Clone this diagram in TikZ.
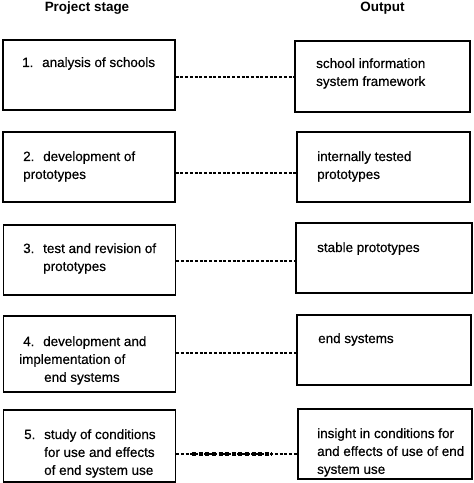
\documentclass[tikz,border=0pt]{standalone}
\usepackage{fontspec}
\setmainfont{Liberation Sans}
\newfontfamily\scanfont[FakeBold=0.4]{Liberation Sans}
\newcommand{\stagenum}[1]{\makebox[20bp][l]{#1}}
\begin{document}
\begin{tikzpicture}[x=1bp,y=-1bp,
  stagebox/.style={draw=black, line width=1.5bp, minimum width=172bp, minimum height=70bp, inner sep=0pt, fill=white},
  outbox/.style={draw=black, line width=1.5bp, minimum width=174bp, minimum height=70bp, inner sep=0pt, fill=white},
  label/.style={anchor=base west, inner sep=0pt, font=\fontsize{13.5}{18}\scanfont},
  header/.style={anchor=base, inner sep=0pt, font=\fontsize{13.5}{18}\selectfont\bfseries},
  link/.style={draw=black, line width=1.2bp, dash pattern=on 3bp off 1.7bp},
  heavylink/.style={draw=black, line width=3.2bp, dash pattern=on 4bp off 2.6bp}]
\useasboundingbox (0,0) rectangle (474,483);

\node[header] (H1) at (87,11.5) {Project stage};
\node[header] (H2) at (382.5,11.5) {Output};

% left boxes
\node[stagebox] (L1) at (89,75) {};
\node[stagebox] (L2) at (89,167) {};
\node[stagebox] (L3) at (89.5,260) {};
\node[stagebox, minimum height=76bp] (L4) at (89.5,354) {};
\node[stagebox, minimum height=72bp] (L5) at (89.5,446) {};

% right boxes
\node[outbox, minimum width=175bp, minimum height=71bp] (R1) at (382.5,76.5) {};
\node[outbox, minimum width=173bp] (R2) at (383.5,167) {};
\node[outbox, minimum width=176bp] (R3) at (384,258) {};
\node[outbox] (R4) at (384,350) {};
\node[outbox] (R5) at (385,444) {};

% left texts
\node[label] (L1t) at (22,67) {\stagenum{1.}analysis of schools};
\node[label] (L2t) at (23,161) {\begin{tabular}[t]{@{}l@{}}\stagenum{2.}development of\\prototypes\end{tabular}};
\node[label] (L3t) at (23,253) {\begin{tabular}[t]{@{}l@{}}\stagenum{3.}test and revision of\\\hspace*{20bp}prototypes\end{tabular}};
\node[label] (L4t) at (23,346) {\begin{tabular}[t]{@{}l@{}}\stagenum{4.}development and\\\hspace*{-4bp}implementation of\\\hspace*{21bp}end systems\end{tabular}};
\node[label] (L5t) at (24,439) {\begin{tabular}[t]{@{}l@{}}\stagenum{5.}study of conditions\\\hspace*{20bp}for use and effects\\\hspace*{20bp}of end system use\end{tabular}};

% right texts
\node[label] (R1t) at (316,68) {\begin{tabular}[t]{@{}l@{}}school information\\system framework\end{tabular}};
\node[label] (R2t) at (317,161) {\begin{tabular}[t]{@{}l@{}}internally tested\\prototypes\end{tabular}};
\node[label] (R3t) at (317,252) {stable prototypes};
\node[label] (R4t) at (318,343) {end systems};
\node[label] (R5t) at (317,438) {\begin{tabular}[t]{@{}l@{}}insight in conditions for\\and effects of use of end\\system use\end{tabular}};

% connectors
\draw[link] (L1.east |- 0,77) -- (R1.west |- 0,77);
\draw[link] (L2.east |- 0,173) -- (R2.west |- 0,173);
\draw[link] (L3.east |- 0,261) -- (R3.west |- 0,261);
\draw[link] (L4.east |- 0,353) -- (R4.west |- 0,353);
\draw[link] (L5.east |- 0,454) -- (R5.west |- 0,454);
\draw[heavylink] ([xshift=16bp]L5.east |- 0,454) -- ([xshift=-25bp]R5.west |- 0,454);
\end{tikzpicture}
\end{document}
